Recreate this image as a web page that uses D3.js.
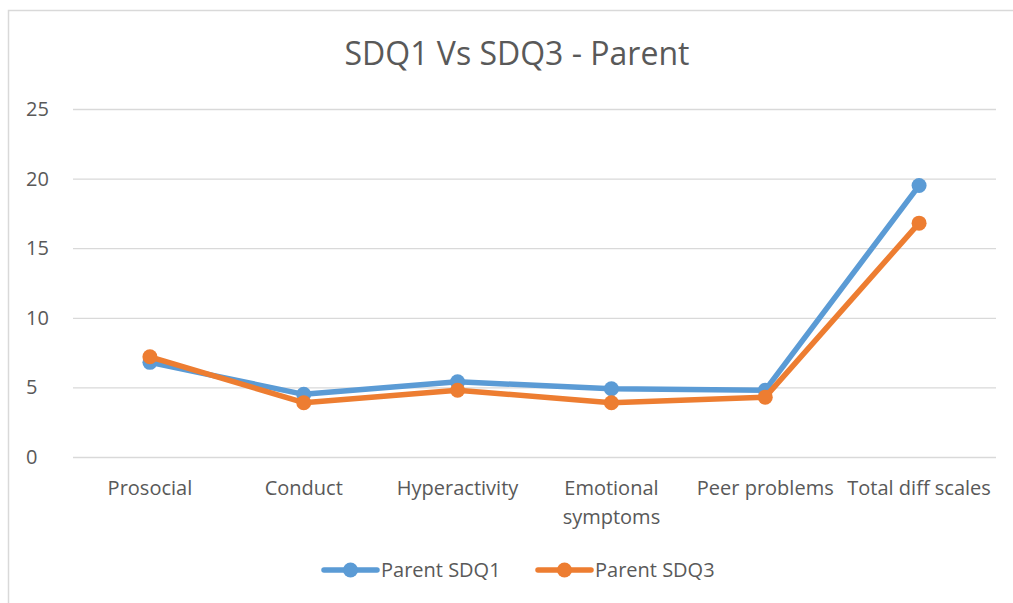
<!DOCTYPE html>
<html>
<head>
<meta charset="utf-8">
<script src="https://cdn.jsdelivr.net/npm/d3@7"></script>
<style>
  body { margin: 0; background: #fff; }
  svg { display: block; font-family: "Open Sans", Lato, sans-serif; }
</style>
</head>
<body>
<div id="chart"></div>
<script>
// --------------------------------------
//  Data
// --------------------------------------
const categories = ["Prosocial", "Conduct", "Hyperactivity", "Emotional symptoms", "Peer problems", "Total diff scales"];
const parentSDQ1 = [6.8, 4.5, 5.4, 4.9, 4.8, 19.5];
const parentSDQ3 = [7.2, 3.9, 4.8, 3.9, 4.3, 16.8];
const yTicks = [0, 5, 10, 15, 20, 25];
const seriesNames = ["Parent SDQ1", "Parent SDQ3"];
const seriesColors = ["#5b9bd5", "#ed7d31"];

// --------------------------------------
//  Margin and canvas
// --------------------------------------
const width = 1013;
const height = 603;
const margin = {top: 109, right: 17, bottom: 146, left: 73};
const innerWidth = width - margin.left - margin.right;
const innerHeight = height - margin.top - margin.bottom;

const svg = d3.select("#chart")
  .append("svg")
    .attr("width", width)
    .attr("height", height);

// chart border (right and bottom edges fall outside the picture)
svg.append("path")
    .attr("d", `M8.5,${height} V10.5 H${width}`)
    .attr("fill", "none")
    .attr("stroke", "#d9d9d9")
    .attr("stroke-width", 1.5);

const inner = svg.append("g")
    .attr("transform", `translate(${margin.left}, ${margin.top})`);

// --------------------------------------
//  Scales
// --------------------------------------
const x = d3.scaleBand()
    .domain(categories)
    .range([0, innerWidth]);

const y = d3.scaleLinear()
    .domain([0, 25])
    .range([innerHeight, 0]);

// --------------------------------------
//  Axes
// --------------------------------------
// gridlines
const yAxis = inner.append("g")
    .call(d3.axisLeft(y).tickValues(yTicks).tickSize(-innerWidth).tickFormat(""));
yAxis.select(".domain").remove();
yAxis.selectAll(".tick line").attr("stroke", "#d9d9d9").attr("stroke-width", 1.3);

// y labels
inner.append("g")
  .selectAll("text")
  .data(yTicks)
  .join("text")
    .attr("x", -47)
    .attr("y", d => y(d) + 7)
    .attr("font-size", 20)
    .attr("fill", "#595959")
    .text(d => d);

// x labels
const xLabels = inner.append("g")
  .selectAll("text")
  .data(categories)
  .join("text")
    .attr("x", d => x(d) + x.bandwidth() / 2)
    .attr("y", innerHeight + 38)
    .attr("text-anchor", "middle")
    .attr("font-size", 20)
    .attr("fill", "#595959")
    .each(function(d) {
      const t = d3.select(this);
      const cx = x(d) + x.bandwidth() / 2;
      if (d === "Emotional symptoms") {
        t.append("tspan").attr("x", cx).text("Emotional");
        t.append("tspan").attr("x", cx).attr("dy", 29).text("symptoms");
      } else {
        t.text(d);
      }
    });

// --------------------------------------
//  Lines and points
// --------------------------------------
const series = [parentSDQ1, parentSDQ3];
const line = d3.line()
    .x((d, i) => x(categories[i]) + x.bandwidth() / 2)
    .y(d => y(d));

series.forEach((vals, s) => {
  inner.append("path")
      .datum(vals)
      .attr("d", line)
      .attr("fill", "none")
      .attr("stroke", seriesColors[s])
      .attr("stroke-width", 5.5)
      .attr("stroke-linejoin", "round")
      .attr("stroke-linecap", "round");

  inner.append("g")
    .selectAll("circle")
    .data(vals)
    .join("circle")
      .attr("cx", (d, i) => x(categories[i]) + x.bandwidth() / 2)
      .attr("cy", d => y(d))
      .attr("r", 7.5)
      .attr("fill", seriesColors[s]);
});

// --------------------------------------
//  Title
// --------------------------------------
svg.append("text")
    .attr("x", 517)
    .attr("y", 65)
    .attr("text-anchor", "middle")
    .attr("font-size", 32)
    .attr("fill", "#595959")
    .text("SDQ1 Vs SDQ3 - Parent");

// --------------------------------------
//  Legend
// --------------------------------------
const legend = svg.append("g")
    .attr("transform", "translate(322, 570)");

const items = legend.selectAll("g")
  .data(seriesNames)
  .join("g")
    .attr("transform", (d, i) => `translate(${i * 214}, 0)`);

items.append("line")
    .attr("x1", 2).attr("x2", 55)
    .attr("stroke", (d, i) => seriesColors[i])
    .attr("stroke-width", 5.5)
    .attr("stroke-linecap", "round");

items.append("circle")
    .attr("cx", 28.5)
    .attr("r", 7.5)
    .attr("fill", (d, i) => seriesColors[i]);

items.append("text")
    .attr("x", 59)
    .attr("y", 7)
    .attr("font-size", 20)
    .attr("fill", "#595959")
    .text(d => d);
</script>
</body>
</html>
